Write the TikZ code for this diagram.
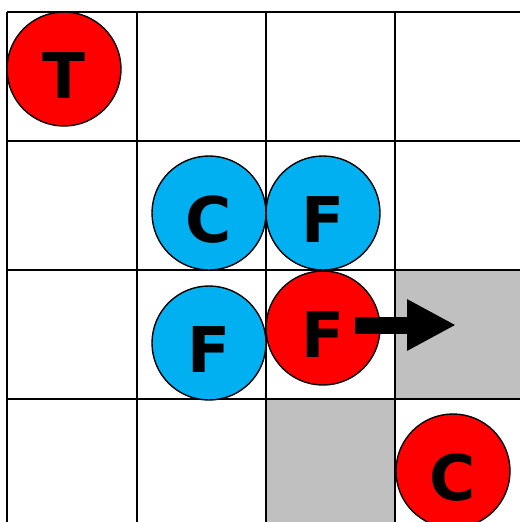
\documentclass[tikz,border=0pt]{standalone}
\usepackage{fontspec}
\setsansfont{DejaVu Sans}
\usetikzlibrary{arrows.meta}
\definecolor{tokred}{HTML}{FF0000}
\definecolor{tokblue}{HTML}{00B0F0}
\definecolor{cellgray}{HTML}{C0C0C0}
\tikzset{
  gridline/.style={line width=1.8pt, black},
  % letters sit a little below the middle of each token
  token/.style={circle, draw=black, line width=1.4pt, minimum size=114pt, inner sep=0pt,
    text height=58pt, text depth=0pt,
    font=\sffamily\bfseries\fontsize{63}{63}\selectfont},
  redtok/.style={token, fill=tokred},
  bluetok/.style={token, fill=tokblue},
  movearrow/.style={line width=17pt, -{Triangle[length=49pt,width=48pt]}}
}
\begin{document}
\begin{tikzpicture}[x=1pt,y=-1pt]
  \useasboundingbox (0,0) rectangle (520,522);
  \fill[white] (0,0) rectangle (520,522);
  % shaded cells
  \fill[cellgray] (395,270) rectangle (520,399);
  \fill[cellgray] (266,399) rectangle (395,522);
  % board grid
  \foreach \x in {7,137,266,395} \draw[gridline] (\x,12) -- (\x,522);
  \foreach \y in {12,141,270,399} \draw[gridline] (7,\y) -- (520,\y);
  % tokens
  \node[redtok]  (T)  at (64,69)   {T};
  \node[bluetok] (Cb) at (209,213) {C};
  \node[bluetok] (Fb) at (323,213) {F};
  \node[bluetok] (Fl) at (209,343) {F};
  \node[redtok]  (Fr) at (323,328) {F};
  \node[redtok]  (Cr) at (453,471) {C};
  % move arrow
  \coordinate (tail) at (355,325);
  \coordinate (head) at (456,325);
  \draw[movearrow] (tail) -- (head);
\end{tikzpicture}
\end{document}
